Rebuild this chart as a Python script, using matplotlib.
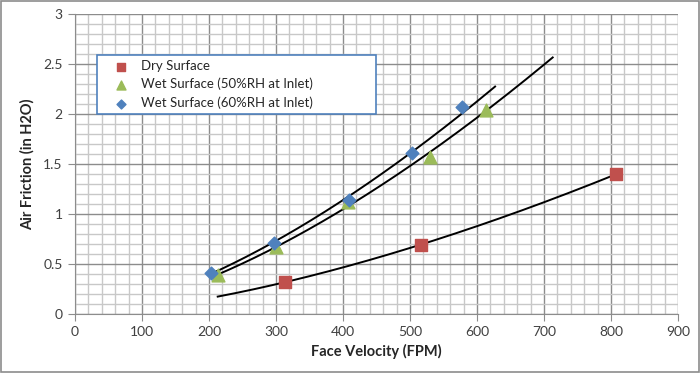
import numpy as np
import matplotlib
matplotlib.use("Agg")
import matplotlib.pyplot as plt
from matplotlib.ticker import MultipleLocator
from matplotlib.patches import Rectangle

plt.rcParams['font.family'] = ['Lato', 'DejaVu Sans']

# Data
dry_x = [314, 516, 807]
dry_y = [0.32, 0.69, 1.40]
wet50_x = [213, 300, 407, 530, 614]
wet50_y = [0.39, 0.67, 1.12, 1.57, 2.04]
wet60_x = [203, 297, 409, 503, 577]
wet60_y = [0.41, 0.71, 1.14, 1.61, 2.07]

labels = ["Dry Surface", "Wet Surface (50%RH at Inlet)", "Wet Surface (60%RH at Inlet)"]
# trendline spans (x-range incl. forecast)
dry_span = (213, 807)
wet50_span = (213, 713)
wet60_span = (203, 627)

red = '#C0504D'
green = '#9BBB59'
blue = '#4F81BD'

fig = plt.figure(figsize=(7.0, 3.73), dpi=100)
fig.patch.set_facecolor('white')
ax = fig.add_axes([75/700, 1-314/373, (678-75)/700, 300/373])

ax.set_xlim(0, 900)
ax.set_ylim(0, 3)
ax.xaxis.set_major_locator(MultipleLocator(100))
ax.xaxis.set_minor_locator(MultipleLocator(20))
ax.yaxis.set_major_locator(MultipleLocator(0.5))
ax.yaxis.set_minor_locator(MultipleLocator(0.1))
ax.grid(which='minor', color='#C8C8C8', linewidth=1.0, zorder=0)
ax.grid(which='major', color='#8C8C8C', linewidth=1.0, zorder=0)
ax.set_axisbelow(True)
for s in ['top', 'right']:
    ax.spines[s].set_visible(False)
for s in ['left', 'bottom']:
    ax.spines[s].set_color('#8C8C8C')
ax.tick_params(which='major', length=5, color='#8C8C8C', labelsize=10, labelcolor='#404040')
ax.tick_params(which='minor', length=0)
ax.tick_params(axis='x', pad=4)
ax.tick_params(axis='y', pad=4)
ax.set_yticks([0, 0.5, 1, 1.5, 2, 2.5, 3])
ax.set_yticklabels(['0', '0.5', '1', '1.5', '2', '2.5', '3'])

def power_line(xs, ys, span):
    b, a = np.polyfit(np.log(xs), np.log(ys), 1)
    xx = np.linspace(span[0], span[1], 200)
    return xx, np.exp(a) * xx ** b

for xs, ys, span in [(dry_x, dry_y, dry_span), (wet50_x, wet50_y, wet50_span), (wet60_x, wet60_y, wet60_span)]:
    xx, yy = power_line(xs, ys, span)
    ax.plot(xx, yy, color='black', linewidth=1.4, zorder=3)

ax.scatter(dry_x, dry_y, marker='s', s=80, color=red, zorder=4, label=labels[0])
ax.scatter(wet50_x, wet50_y, marker='^', s=85, color=green, zorder=4, label=labels[1])
ax.scatter(wet60_x, wet60_y, marker='D', s=42, color=blue, zorder=5, label=labels[2])

# legend box (drawn separately to match its wide frame)
box = Rectangle(((97-75)/603, (314-114)/300), (376-97)/603, 59/300, transform=ax.transAxes,
                facecolor='white', edgecolor=blue, linewidth=1.2, zorder=6)
ax.add_patch(box)
leg = ax.legend(loc='upper left', bbox_to_anchor=(33/603, 1-(60-14)/300), fontsize=9.5,
                frameon=False, borderpad=0.0, labelspacing=0.45,
                handletextpad=0.5, borderaxespad=0, markerscale=0.7)
leg.set_zorder(7)
for t in leg.get_texts():
    t.set_color('#262626')

ax.set_xlabel('Face Velocity (FPM)', fontsize=10.5, fontweight='bold', color='#262626', labelpad=4)
ax.set_ylabel('Air Friction (in H2O)', fontsize=10.5, fontweight='bold', color='#262626', labelpad=6)

# figure border
fig.add_artist(Rectangle((0.001, 0.002), 0.997, 0.995, transform=fig.transFigure,
                         fill=False, edgecolor='#8C8C8C', linewidth=1.2))

fig.savefig('out.png', dpi=100)
